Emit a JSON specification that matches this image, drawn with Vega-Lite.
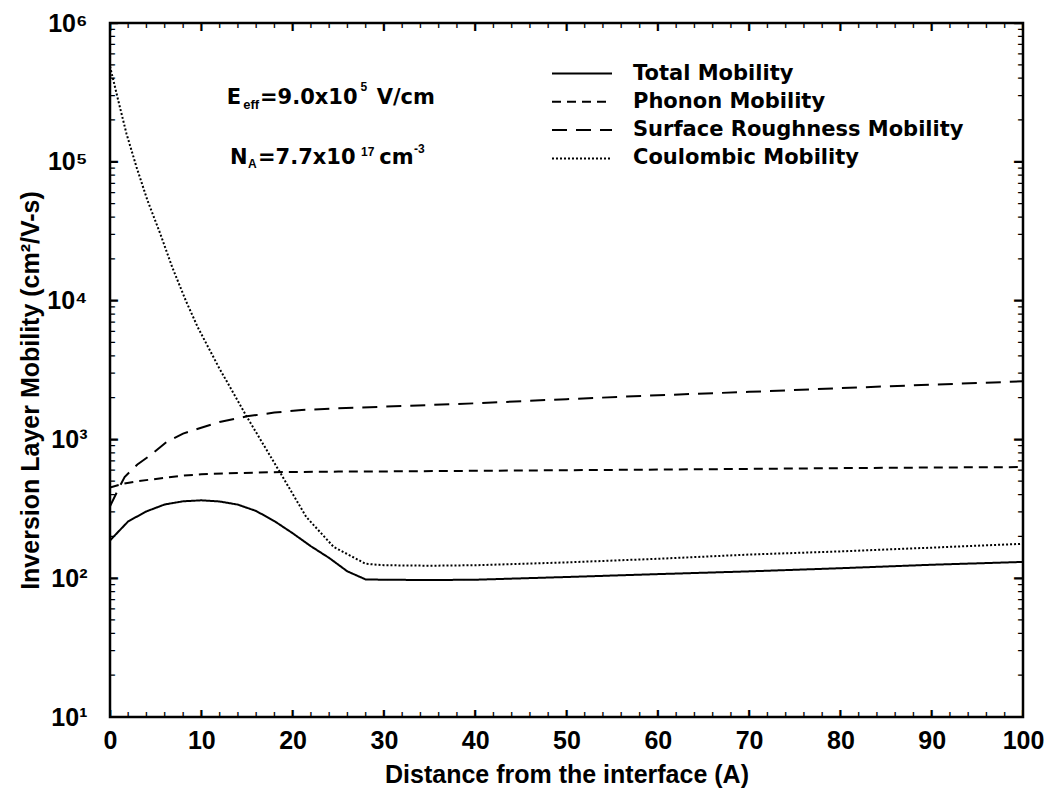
{
  "$schema": "https://vega.github.io/schema/vega-lite/v6.json",
  "width": 913,
  "height": 694,
  "autosize": {"type": "none"},
  "padding": {"left": 110, "top": 23, "right": 27, "bottom": 75},
  "background": "white",
  "config": {"view": {"stroke": "black", "strokeWidth": 2.5}},
  "datasets": {
    "d": [
      {"s": "Total Mobility", "x": 0, "y": 187},
      {"s": "Total Mobility", "x": 2, "y": 257},
      {"s": "Total Mobility", "x": 4, "y": 303},
      {"s": "Total Mobility", "x": 6, "y": 340},
      {"s": "Total Mobility", "x": 8, "y": 358},
      {"s": "Total Mobility", "x": 10, "y": 364},
      {"s": "Total Mobility", "x": 12, "y": 357},
      {"s": "Total Mobility", "x": 14, "y": 339},
      {"s": "Total Mobility", "x": 16, "y": 305},
      {"s": "Total Mobility", "x": 18, "y": 258},
      {"s": "Total Mobility", "x": 20, "y": 211},
      {"s": "Total Mobility", "x": 22, "y": 170},
      {"s": "Total Mobility", "x": 24, "y": 140},
      {"s": "Total Mobility", "x": 26, "y": 112},
      {"s": "Total Mobility", "x": 28, "y": 98},
      {"s": "Total Mobility", "x": 30, "y": 97.5},
      {"s": "Total Mobility", "x": 35, "y": 97},
      {"s": "Total Mobility", "x": 40, "y": 97.5},
      {"s": "Total Mobility", "x": 50, "y": 102},
      {"s": "Total Mobility", "x": 60, "y": 107},
      {"s": "Total Mobility", "x": 70, "y": 112},
      {"s": "Total Mobility", "x": 80, "y": 118},
      {"s": "Total Mobility", "x": 90, "y": 125},
      {"s": "Total Mobility", "x": 100, "y": 131},
      {"s": "Phonon Mobility", "x": 0, "y": 450},
      {"s": "Phonon Mobility", "x": 1.5, "y": 480},
      {"s": "Phonon Mobility", "x": 3, "y": 500},
      {"s": "Phonon Mobility", "x": 4.4, "y": 513},
      {"s": "Phonon Mobility", "x": 6.2, "y": 531},
      {"s": "Phonon Mobility", "x": 8, "y": 548},
      {"s": "Phonon Mobility", "x": 10, "y": 560},
      {"s": "Phonon Mobility", "x": 13, "y": 570},
      {"s": "Phonon Mobility", "x": 16, "y": 577},
      {"s": "Phonon Mobility", "x": 19, "y": 582},
      {"s": "Phonon Mobility", "x": 25, "y": 586},
      {"s": "Phonon Mobility", "x": 30, "y": 588},
      {"s": "Phonon Mobility", "x": 40, "y": 594},
      {"s": "Phonon Mobility", "x": 50, "y": 600},
      {"s": "Phonon Mobility", "x": 60, "y": 606},
      {"s": "Phonon Mobility", "x": 70, "y": 613},
      {"s": "Phonon Mobility", "x": 80, "y": 621},
      {"s": "Phonon Mobility", "x": 90, "y": 627},
      {"s": "Phonon Mobility", "x": 100, "y": 632},
      {"s": "Surface Roughness Mobility", "x": 0, "y": 330},
      {"s": "Surface Roughness Mobility", "x": 1, "y": 450},
      {"s": "Surface Roughness Mobility", "x": 1.6, "y": 536},
      {"s": "Surface Roughness Mobility", "x": 3, "y": 660},
      {"s": "Surface Roughness Mobility", "x": 4.4, "y": 767},
      {"s": "Surface Roughness Mobility", "x": 6.2, "y": 958},
      {"s": "Surface Roughness Mobility", "x": 8, "y": 1100},
      {"s": "Surface Roughness Mobility", "x": 9.9, "y": 1208},
      {"s": "Surface Roughness Mobility", "x": 12, "y": 1334},
      {"s": "Surface Roughness Mobility", "x": 15, "y": 1466},
      {"s": "Surface Roughness Mobility", "x": 18, "y": 1560},
      {"s": "Surface Roughness Mobility", "x": 21, "y": 1630},
      {"s": "Surface Roughness Mobility", "x": 25, "y": 1675},
      {"s": "Surface Roughness Mobility", "x": 30, "y": 1720},
      {"s": "Surface Roughness Mobility", "x": 40, "y": 1820},
      {"s": "Surface Roughness Mobility", "x": 50, "y": 1950},
      {"s": "Surface Roughness Mobility", "x": 60, "y": 2080},
      {"s": "Surface Roughness Mobility", "x": 70, "y": 2200},
      {"s": "Surface Roughness Mobility", "x": 80, "y": 2340},
      {"s": "Surface Roughness Mobility", "x": 90, "y": 2480},
      {"s": "Surface Roughness Mobility", "x": 100, "y": 2620},
      {"s": "Coulombic Mobility", "x": 0, "y": 487000},
      {"s": "Coulombic Mobility", "x": 0.9, "y": 277000},
      {"s": "Coulombic Mobility", "x": 1.8, "y": 160000},
      {"s": "Coulombic Mobility", "x": 2.9, "y": 91800},
      {"s": "Coulombic Mobility", "x": 4.1, "y": 52800},
      {"s": "Coulombic Mobility", "x": 5.5, "y": 30400},
      {"s": "Coulombic Mobility", "x": 6.8, "y": 17500},
      {"s": "Coulombic Mobility", "x": 8.3, "y": 10000},
      {"s": "Coulombic Mobility", "x": 9.6, "y": 6450},
      {"s": "Coulombic Mobility", "x": 11.9, "y": 3320},
      {"s": "Coulombic Mobility", "x": 15, "y": 1450},
      {"s": "Coulombic Mobility", "x": 18.6, "y": 582},
      {"s": "Coulombic Mobility", "x": 21.5, "y": 276},
      {"s": "Coulombic Mobility", "x": 24.5, "y": 168},
      {"s": "Coulombic Mobility", "x": 28, "y": 127},
      {"s": "Coulombic Mobility", "x": 30, "y": 124},
      {"s": "Coulombic Mobility", "x": 35, "y": 123},
      {"s": "Coulombic Mobility", "x": 40, "y": 124},
      {"s": "Coulombic Mobility", "x": 50, "y": 130},
      {"s": "Coulombic Mobility", "x": 60, "y": 138},
      {"s": "Coulombic Mobility", "x": 70, "y": 148},
      {"s": "Coulombic Mobility", "x": 80, "y": 156},
      {"s": "Coulombic Mobility", "x": 90, "y": 166},
      {"s": "Coulombic Mobility", "x": 100, "y": 177}
    ],
    "one": [{}]
  },
  "layer": [
    {
      "data": {"name": "d"},
      "mark": {"type": "line", "stroke": "black", "strokeWidth": 2, "clip": true},
      "encoding": {
        "x": {
          "field": "x", "type": "quantitative",
          "scale": {"domain": [0, 100], "nice": false, "zero": false},
          "axis": {
            "orient": "bottom",
            "values": [0,10,20,30,40,50,60,70,80,90,100],
            "ticks": false, "domain": false, "grid": false,
            "labelFont": "Liberation Sans", "labelFontWeight": "bold", "labelFontSize": 25, "labelColor": "black",
            "labelPadding": 31, "labelBaseline": "alphabetic", "labelFlush": false, "labelOverlap": false, "labelBound": false,
            "title": "Distance from the interface (A)",
            "titleFont": "Liberation Sans", "titleFontWeight": "bold", "titleFontSize": 25, "titleColor": "black",
            "titleBaseline": "alphabetic", "titleY": 65
          }
        },
        "y": {
          "field": "y", "type": "quantitative",
          "scale": {"type": "log", "domain": [10, 1000000], "nice": false},
          "axis": {
            "orient": "left",
            "values": [10, 100, 1000, 10000, 100000, 1000000],
            "labelExpr": "datum.value == 10 ? '10¹' : datum.value == 100 ? '10²' : datum.value == 1000 ? '10³' : datum.value == 10000 ? '10⁴' : datum.value == 100000 ? '10⁵' : datum.value == 1000000 ? '10⁶' : ''",
            "ticks": false, "domain": false, "grid": false,
            "labelFont": "Liberation Sans", "labelFontWeight": "bold", "labelFontSize": 25, "labelColor": "black",
            "labelPadding": 23, "labelAlign": "right", "labelBaseline": "middle", "labelFlush": false, "labelOverlap": false, "labelBound": false,
            "title": "Inversion Layer Mobility (cm²/V-s)",
            "titleFont": "Liberation Sans", "titleFontWeight": "bold", "titleFontSize": 25, "titleColor": "black",
            "titleBaseline": "alphabetic", "titleX": -72, "titleY": 367, "titleAngle": -90
          }
        },
        "strokeDash": {
          "field": "s", "type": "nominal",
          "scale": {
            "domain": ["Total Mobility", "Phonon Mobility", "Surface Roughness Mobility", "Coulombic Mobility"],
            "range": [[1, 0], [9, 6], [15, 9], [2, 2]]
          },
          "legend": {
            "orient": "none", "legendX": 461, "legendY": 39.5,
            "title": null, "padding": 0,
            "symbolType": "M-3,0H3", "symbolSize": 400, "symbolStrokeWidth": 2, "symbolStrokeColor": "black", "symbolFillColor": "transparent",
            "labelFont": "DejaVu Sans", "labelFontWeight": "bold", "labelFontSize": 21, "labelColor": "black",
            "labelOffset": 40, "rowPadding": 7.3, "labelLimit": 500
          }
        }
      }
    },
    {
      "data": {"values": [{"v": 0}, {"v": 10}, {"v": 20}, {"v": 30}, {"v": 40}, {"v": 50}, {"v": 60}, {"v": 70}, {"v": 80}, {"v": 90}, {"v": 100}]},
      "layer": [
        {"mark": {"type": "text", "text": "|", "font": "Liberation Sans", "fontWeight": "bold", "fontSize": 17, "fill": "black", "baseline": "middle", "align": "center", "clip": true},
         "encoding": {"x": {"field": "v", "type": "quantitative"}, "y": {"datum": 10, "type": "quantitative"}}},
        {"mark": {"type": "text", "text": "|", "font": "Liberation Sans", "fontWeight": "bold", "fontSize": 17, "fill": "black", "baseline": "middle", "align": "center", "clip": true},
         "encoding": {"x": {"field": "v", "type": "quantitative"}, "y": {"datum": 1000000, "type": "quantitative"}}}
      ]
    },
    {
      "data": {"values": [{"v": 2}, {"v": 4}, {"v": 6}, {"v": 8}, {"v": 12}, {"v": 14}, {"v": 16}, {"v": 18}, {"v": 22}, {"v": 24}, {"v": 26}, {"v": 28}, {"v": 32}, {"v": 34}, {"v": 36}, {"v": 38}, {"v": 42}, {"v": 44}, {"v": 46}, {"v": 48}, {"v": 52}, {"v": 54}, {"v": 56}, {"v": 58}, {"v": 62}, {"v": 64}, {"v": 66}, {"v": 68}, {"v": 72}, {"v": 74}, {"v": 76}, {"v": 78}, {"v": 82}, {"v": 84}, {"v": 86}, {"v": 88}, {"v": 92}, {"v": 94}, {"v": 96}, {"v": 98}]},
      "layer": [
        {"mark": {"type": "text", "text": "|", "font": "Liberation Sans", "fontWeight": "bold", "fontSize": 10, "fill": "black", "baseline": "middle", "align": "center", "clip": true},
         "encoding": {"x": {"field": "v", "type": "quantitative"}, "y": {"datum": 10, "type": "quantitative"}}},
        {"mark": {"type": "text", "text": "|", "font": "Liberation Sans", "fontWeight": "bold", "fontSize": 10, "fill": "black", "baseline": "middle", "align": "center", "clip": true},
         "encoding": {"x": {"field": "v", "type": "quantitative"}, "y": {"datum": 1000000, "type": "quantitative"}}}
      ]
    },
    {
      "data": {"values": [{"v": 10}, {"v": 100}, {"v": 1000}, {"v": 10000}, {"v": 100000}, {"v": 1000000}]},
      "layer": [
        {"mark": {"type": "text", "text": "|", "angle": 90, "font": "Liberation Sans", "fontWeight": "bold", "fontSize": 18, "fill": "black", "baseline": "middle", "align": "center", "clip": true},
         "encoding": {"y": {"field": "v", "type": "quantitative"}, "x": {"datum": 0, "type": "quantitative"}}},
        {"mark": {"type": "text", "text": "|", "angle": 90, "font": "Liberation Sans", "fontWeight": "bold", "fontSize": 18, "fill": "black", "baseline": "middle", "align": "center", "clip": true},
         "encoding": {"y": {"field": "v", "type": "quantitative"}, "x": {"datum": 100, "type": "quantitative"}}}
      ]
    },
    {
      "data": {"values": [{"v": 20}, {"v": 30}, {"v": 40}, {"v": 50}, {"v": 60}, {"v": 70}, {"v": 80}, {"v": 90}, {"v": 200}, {"v": 300}, {"v": 400}, {"v": 500}, {"v": 600}, {"v": 700}, {"v": 800}, {"v": 900}, {"v": 2000}, {"v": 3000}, {"v": 4000}, {"v": 5000}, {"v": 6000}, {"v": 7000}, {"v": 8000}, {"v": 9000}, {"v": 20000}, {"v": 30000}, {"v": 40000}, {"v": 50000}, {"v": 60000}, {"v": 70000}, {"v": 80000}, {"v": 90000}, {"v": 200000}, {"v": 300000}, {"v": 400000}, {"v": 500000}, {"v": 600000}, {"v": 700000}, {"v": 800000}, {"v": 900000}]},
      "layer": [
        {"mark": {"type": "text", "text": "|", "angle": 90, "font": "Liberation Sans", "fontWeight": "bold", "fontSize": 10, "fill": "black", "baseline": "middle", "align": "center", "clip": true},
         "encoding": {"y": {"field": "v", "type": "quantitative"}, "x": {"datum": 0, "type": "quantitative"}}},
        {"mark": {"type": "text", "text": "|", "angle": 90, "font": "Liberation Sans", "fontWeight": "bold", "fontSize": 10, "fill": "black", "baseline": "middle", "align": "center", "clip": true},
         "encoding": {"y": {"field": "v", "type": "quantitative"}, "x": {"datum": 100, "type": "quantitative"}}}
      ]
    },
    {"data": {"name": "one"}, "mark": {"type": "text", "text": "E", "align": "left", "baseline": "alphabetic", "font": "DejaVu Sans", "fontWeight": "bold", "fontSize": 21, "fill": "black"},
     "encoding": {"x": {"datum": 12.78, "type": "quantitative"}, "y": {"datum": 259500, "type": "quantitative"}}},
    {"data": {"name": "one"}, "mark": {"type": "text", "text": "eff", "align": "left", "baseline": "alphabetic", "font": "Liberation Sans", "fontWeight": "bold", "fontSize": 13, "fill": "black", "dy": 5},
     "encoding": {"x": {"datum": 14.6, "type": "quantitative"}, "y": {"datum": 259500, "type": "quantitative"}}},
    {"data": {"name": "one"}, "mark": {"type": "text", "text": "=9.0x10", "align": "left", "baseline": "alphabetic", "font": "DejaVu Sans", "fontWeight": "bold", "fontSize": 21, "fill": "black"},
     "encoding": {"x": {"datum": 16.43, "type": "quantitative"}, "y": {"datum": 259500, "type": "quantitative"}}},
    {"data": {"name": "one"}, "mark": {"type": "text", "text": "5", "align": "left", "baseline": "alphabetic", "font": "Liberation Sans", "fontWeight": "bold", "fontSize": 12, "fill": "black", "dy": -13},
     "encoding": {"x": {"datum": 27.45, "type": "quantitative"}, "y": {"datum": 259500, "type": "quantitative"}}},
    {"data": {"name": "one"}, "mark": {"type": "text", "text": "V/cm", "align": "left", "baseline": "alphabetic", "font": "DejaVu Sans", "fontWeight": "bold", "fontSize": 21, "fill": "black"},
     "encoding": {"x": {"datum": 29.21, "type": "quantitative"}, "y": {"datum": 259500, "type": "quantitative"}}},
    {"data": {"name": "one"}, "mark": {"type": "text", "text": "N", "align": "left", "baseline": "alphabetic", "font": "DejaVu Sans", "fontWeight": "bold", "fontSize": 21, "fill": "black"},
     "encoding": {"x": {"datum": 13.14, "type": "quantitative"}, "y": {"datum": 97000, "type": "quantitative"}}},
    {"data": {"name": "one"}, "mark": {"type": "text", "text": "A", "align": "left", "baseline": "alphabetic", "font": "Liberation Sans", "fontWeight": "bold", "fontSize": 12, "fill": "black", "dy": 4},
     "encoding": {"x": {"datum": 15.11, "type": "quantitative"}, "y": {"datum": 97000, "type": "quantitative"}}},
    {"data": {"name": "one"}, "mark": {"type": "text", "text": "=7.7x10", "align": "left", "baseline": "alphabetic", "font": "DejaVu Sans", "fontWeight": "bold", "fontSize": 21, "fill": "black"},
     "encoding": {"x": {"datum": 16.21, "type": "quantitative"}, "y": {"datum": 97000, "type": "quantitative"}}},
    {"data": {"name": "one"}, "mark": {"type": "text", "text": "17", "align": "left", "baseline": "alphabetic", "font": "Liberation Sans", "fontWeight": "bold", "fontSize": 12, "fill": "black", "dy": -8},
     "encoding": {"x": {"datum": 27.49, "type": "quantitative"}, "y": {"datum": 97000, "type": "quantitative"}}},
    {"data": {"name": "one"}, "mark": {"type": "text", "text": "cm", "align": "left", "baseline": "alphabetic", "font": "DejaVu Sans", "fontWeight": "bold", "fontSize": 21, "fill": "black"},
     "encoding": {"x": {"datum": 29.5, "type": "quantitative"}, "y": {"datum": 97000, "type": "quantitative"}}},
    {"data": {"name": "one"}, "mark": {"type": "text", "text": "-3", "align": "left", "baseline": "alphabetic", "font": "Liberation Sans", "fontWeight": "bold", "fontSize": 12, "fill": "black", "dy": -10.5},
     "encoding": {"x": {"datum": 33.3, "type": "quantitative"}, "y": {"datum": 97000, "type": "quantitative"}}}
  ]
}
